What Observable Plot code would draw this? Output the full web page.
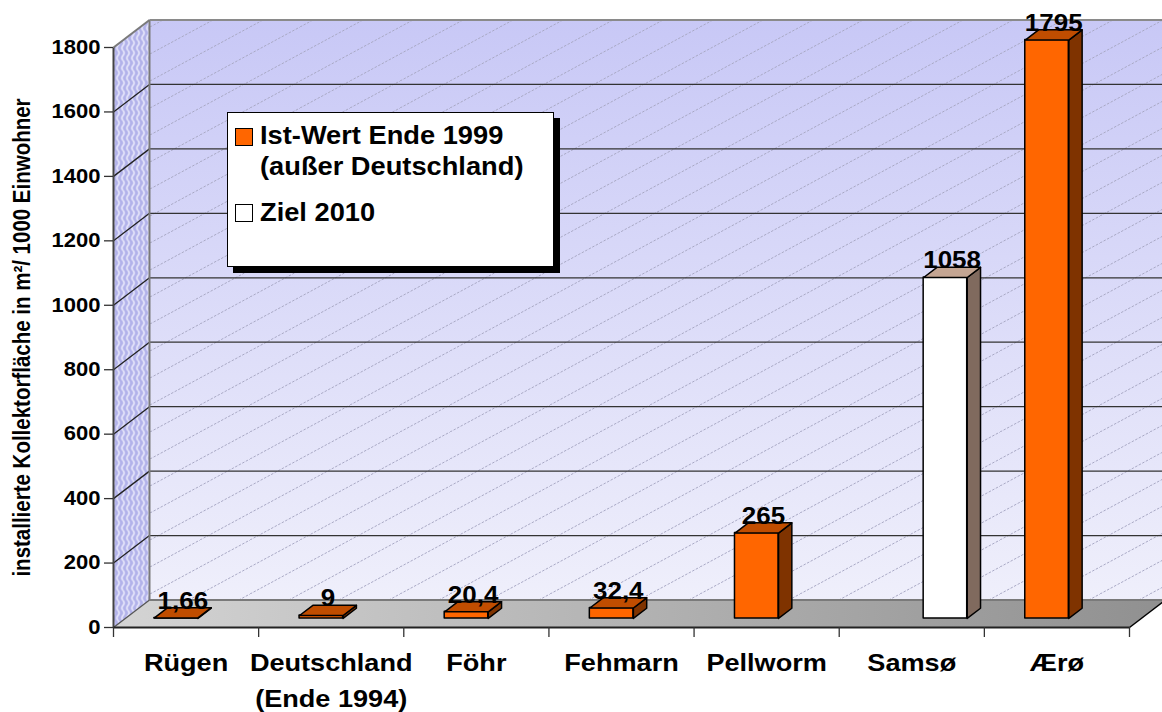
<!DOCTYPE html>
<html><head><meta charset="utf-8">
<script src="https://cdn.jsdelivr.net/npm/d3@7"></script>
<script src="https://cdn.jsdelivr.net/npm/@observablehq/plot@0.6"></script>
<style>
body{margin:0;background:#fff;font-family:"Liberation Sans",Arial,sans-serif;}
#wrap{position:relative;width:1162px;height:712px;overflow:hidden}
#legend{position:absolute;left:227px;top:112px;width:327px;height:155px;box-sizing:border-box;border:1.5px solid #000;background:#fff;box-shadow:6px 6px 0 #000;font-weight:bold;font-size:25px;line-height:25px;color:#000}
#legend .sw{position:absolute;width:16px;height:16px;border:1.5px solid #000;box-sizing:content-box}
#legend .tx{position:absolute;left:32px;white-space:nowrap;transform:scaleX(1.09);transform-origin:left center}
</style></head><body><div id="wrap"><div id="chart"></div><div id="legend"></div></div>
<script>
// ---- data ----
const categories = ["Rügen", "Deutschland\n(Ende 1994)", "Föhr", "Fehmarn", "Pellworm", "Samsø", "Ærø"];
const istWert = [1.66, 9, 20.4, 32.4, 265, null, 1795];
const ziel2010 = [null, null, null, null, null, 1058, null];
const seriesNames = ["Ist-Wert Ende 1999\n(außer Deutschland)", "Ziel 2010"];
const yTicks = [0, 200, 400, 600, 800, 1000, 1200, 1400, 1600, 1800];
const yTitle = "installierte Kollektorfläche in m²/ 1000 Einwohner";

// ---- styling / layout ----
const W = 1162, H = 712, mL = 113, mR = 33, mT = 47, mB = 85;
const yMax = 1800;
const nCat = categories.length;
const pxX = (W - mL - mR) / nCat, pxY = (H - mT - mB) / yMax;
const DX = 36 / pxX, DY = 27.5 / pxY;      // depth of the 3D box in data units
const barW = 0.3, f1 = 0.33, f2 = 0.70;     // bar width and depth position
const frontCol = ["#ff6600", "#ffffff"], topCol = ["#c04d00", "#c4a592"], sideCol = ["#7f3300", "#806a5e"];
const S = 1.13; // horizontal text stretch
const fmt = v => String(v).replace(".", ",");

const bars = [];
[istWert, ziel2010].forEach((arr, s) => arr.forEach((v, i) => {
  if (v != null) bars.push({i, s, v, x0: i + 0.5 - barW + s * barW, cat: categories[i]});
}));

function poly(id, pts, extra = {}) { return [...pts, pts[0]].map(([x, y]) => ({id, x, y, ...extra})); }

const topPts = bars.flatMap((b, k) => poly("t" + k, [
  [b.x0 + f1 * DX, b.v + f1 * DY], [b.x0 + barW + f1 * DX, b.v + f1 * DY],
  [b.x0 + barW + f2 * DX, b.v + f2 * DY], [b.x0 + f2 * DX, b.v + f2 * DY]], {s: b.s}));
const sidePts = bars.flatMap((b, k) => poly("s" + k, [
  [b.x0 + barW + f1 * DX, f1 * DY], [b.x0 + barW + f2 * DX, f2 * DY],
  [b.x0 + barW + f2 * DX, b.v + f2 * DY], [b.x0 + barW + f1 * DX, b.v + f1 * DY]], {s: b.s}));
const sideWall = poly("w", [[0, 0], [DX, DY], [DX, yMax + DY], [0, yMax]]);
const floor = poly("f", [[0, 0], [nCat, 0], [nCat + DX, DY], [DX, DY]]);
const grid = yTicks.filter(v => v > 0 && v < yMax);
const catData = categories.map((c, i) => ({c, i}));
const bounds = d3.range(nCat + 1);

const barMarks = [0, 1].flatMap(s => [
  Plot.line(sidePts.filter(d => d.s === s), {x: "x", y: "y", z: "id", fill: sideCol[s], stroke: "#000", strokeWidth: 1.5, strokeLinejoin: "round"}),
  Plot.rect(bars.filter(d => d.s === s), {x1: d => d.x0 + f1 * DX, x2: d => d.x0 + barW + f1 * DX, y1: f1 * DY, y2: d => d.v + f1 * DY, fill: frontCol[s], stroke: "#000", strokeWidth: 1.5, strokeLinejoin: "round"}),
  Plot.line(topPts.filter(d => d.s === s), {x: "x", y: "y", z: "id", fill: topCol[s], stroke: "#000", strokeWidth: 1.5, strokeLinejoin: "round"})
]);

const svg = Plot.plot({
  width: W, height: H, marginLeft: mL, marginRight: mR, marginTop: mT, marginBottom: mB,
  style: {background: "transparent", overflow: "visible", fontFamily: "'Liberation Sans', Arial, sans-serif", color: "#000"},
  x: {type: "linear", domain: [0, nCat]},
  y: {type: "linear", domain: [0, yMax]},
  marks: [
    // back wall
    Plot.rect([0], {x1: DX, x2: nCat + DX, y1: DY, y2: yMax + DY, fill: "url(#wallGrad)"}),
    Plot.rect([0], {x1: DX, x2: nCat + DX, y1: DY, y2: yMax + DY, fill: "url(#hatch)"}),
    Plot.ruleY(grid, {y: d => d + DY, x1: DX, x2: nCat + DX, stroke: "#333", strokeWidth: 1.3}),
    // side wall
    Plot.line(sideWall, {x: "x", y: "y", fill: "url(#wave)", stroke: null}),
    Plot.link(grid, {x1: 0, y1: d => d, x2: DX, y2: d => d + DY, stroke: "#222", strokeWidth: 1.3}),
    // floor
    Plot.line(floor, {x: "x", y: "y", fill: "url(#floorGrad)", stroke: null}),
    // box edges
    Plot.link([0], {x1: DX, y1: DY, x2: nCat + DX, y2: DY, stroke: "#7a7a7a", strokeWidth: 2}),
    Plot.link([0], {x1: DX, y1: DY, x2: DX, y2: yMax + DY, stroke: "#7a7a7a", strokeWidth: 2}),
    Plot.link([0], {x1: DX, y1: yMax + DY, x2: nCat + DX, y2: yMax + DY, stroke: "#8a8a8a", strokeWidth: 2}),
    Plot.link([0], {x1: 0, y1: yMax, x2: DX, y2: yMax + DY, stroke: "#7a7a7a", strokeWidth: 2}),
    Plot.link([0], {x1: 0, y1: 0, x2: DX, y2: DY, stroke: "#555", strokeWidth: 1.3}),
    Plot.link([0], {x1: nCat, y1: 0, x2: nCat + DX, y2: DY, stroke: "#000", strokeWidth: 1.5}),
    // front axes
    Plot.link([0], {x1: 0, y1: 0, x2: 0, y2: yMax, stroke: "#444", strokeWidth: 2}),
    Plot.link([0], {x1: 0, y1: 0, x2: nCat, y2: 0, stroke: "#222", strokeWidth: 2}),
    Plot.axisY(yTicks, {tickSize: 9, tickPadding: 4, tickFormat: d => String(d), fontSize: 19.5, fontWeight: "bold", label: null, stroke: "#333", strokeWidth: 1.3}),
    Plot.axisX(bounds, {tickSize: 10, tickFormat: () => "", label: null, stroke: "#333", strokeWidth: 1.3}),
    Plot.text(catData, {x: d => d.i + 0.5, y: () => 0, text: "c", dy: 18, lineAnchor: "top", lineHeight: 1.5, fontSize: 24, fontWeight: "bold", fill: "#000"}),
    Plot.text([yTitle], {frameAnchor: "left", textAnchor: "middle", rotate: -90, dx: -91, fontSize: 20.5, fontWeight: "bold", fill: "#000"}),
    // bars
    ...barMarks,
    Plot.text(bars, {x: d => d.x0 + barW / 2 + (f1 + f2) / 2 * DX, y: d => d.v + f2 * DY, text: d => fmt(d.v), lineAnchor: "bottom", dy: 1, fontSize: 23, fontWeight: "bold", fill: "#000"})
  ]
});

// gradients and patterns
const ns = "http://www.w3.org/2000/svg";
const defs = document.createElementNS(ns, "defs");
defs.innerHTML = `
<linearGradient id="wallGrad" x1="0" y1="0" x2="0" y2="1"><stop offset="0" stop-color="#c8c8f6"/><stop offset="1" stop-color="#efeffb"/></linearGradient>
<linearGradient id="floorGrad" x1="0" y1="0" x2="1" y2="0"><stop offset="0" stop-color="#d4d4d4"/><stop offset="1" stop-color="#909090"/></linearGradient>
<pattern id="hatch" patternUnits="userSpaceOnUse" width="50" height="27"><path d="M0,27L50,0" stroke="#a8a8c4" stroke-width="1" stroke-dasharray="2.5 1.5" fill="none"/></pattern>
<pattern id="wave" patternUnits="userSpaceOnUse" width="5" height="10"><rect width="5" height="10" fill="#b2b2ea"/><path d="M2.5,0Q4.8,2.5 2.5,5Q0.2,7.5 2.5,10" stroke="#f4f4ff" stroke-width="1.3" fill="none"/></pattern>`;
svg.insertBefore(defs, svg.firstChild);

// stretch texts horizontally
svg.querySelectorAll("text").forEach(t => {
  const tr = t.getAttribute("transform");
  if (tr && tr.startsWith("translate(")) {
    const k = tr.indexOf(")") + 1;
    t.setAttribute("transform", tr.slice(0, k) + ` scale(${S},1)` + tr.slice(k));
  }
});
document.getElementById("chart").appendChild(svg);

// legend
const lg = document.getElementById("legend");
const rows = [
  {col: frontCol[0], lines: seriesNames[0].split("\n"), top: 10, swTop: 14.5},
  {col: frontCol[1], lines: seriesNames[1].split("\n"), top: 87, swTop: 90.5}
];
rows.forEach(r => {
  const sw = document.createElement("div"); sw.className = "sw";
  sw.style.left = "6.5px"; sw.style.top = r.swTop + "px"; sw.style.background = r.col;
  lg.appendChild(sw);
  r.lines.forEach((ln, j) => {
    const t = document.createElement("div"); t.className = "tx";
    t.style.top = (r.top + j * 31) + "px"; t.textContent = ln;
    lg.appendChild(t);
  });
});
</script></body></html>
